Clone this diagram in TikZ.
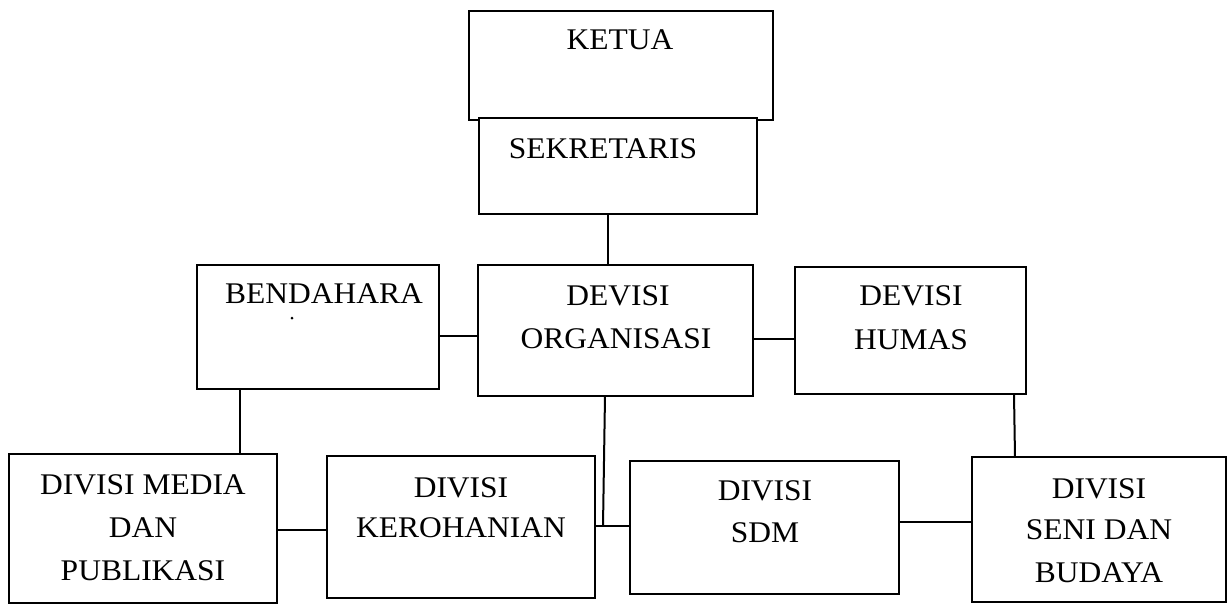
\documentclass[tikz,border=0pt]{standalone}
\usepackage{fontspec}
\setmainfont{Liberation Serif}[FakeStretch=1.05]
\begin{document}
\begin{tikzpicture}[x=1pt,y=-1pt,
  box/.style={draw=black, line width=2pt, fill=white, rectangle, inner sep=0pt, outer sep=0pt},
  txt/.style={font=\fontsize{30}{36}\selectfont, inner sep=0pt, anchor=base},
  conn/.style={draw=black, line width=2pt}]
\useasboundingbox (0,0) rectangle (1232,605);
% boxes
\node[box, minimum width=304pt, minimum height=109pt] (ketua) at (621,65.5) {};
\node[box, minimum width=278pt, minimum height=96pt] (sek) at (618,166) {};
\node[box, minimum width=242pt, minimum height=124pt] (bend) at (318,327) {};
\node[box, minimum width=275pt, minimum height=131pt] (org) at (615.5,330.5) {};
\node[box, minimum width=231pt, minimum height=127pt] (humas) at (910.5,330.5) {};
\node[box, minimum width=268pt, minimum height=149pt] (media) at (143,528.5) {};
\node[box, minimum width=268pt, minimum height=142pt] (kero) at (461,527) {};
\node[box, minimum width=269pt, minimum height=133pt] (sdm) at (764.5,527.5) {};
\node[box, minimum width=254pt, minimum height=145pt] (seni) at (1099,529.5) {};
% texts
\node[txt] (ketuaT) at (620,49) {KETUA};
\node[txt] (sekT) at (603,158) {SEKRETARIS};
\node[txt] (bendT) at (324,303) {BENDAHARA};
\fill (292,318) circle (1.5pt);
\node[txt] (orgT1) at (618,305) {DEVISI};
\node[txt] (orgT2) at (616,348) {ORGANISASI};
\node[txt] (humasT1) at (911,305) {DEVISI};
\node[txt] (humasT2) at (911,349) {HUMAS};
\node[txt] (mediaT1) at (143,494) {DIVISI MEDIA};
\node[txt] (mediaT2) at (143,537) {DAN};
\node[txt] (mediaT3) at (143,580) {PUBLIKASI};
\node[txt] (keroT1) at (461,497) {DIVISI};
\node[txt] (keroT2) at (461,537) {KEROHANIAN};
\node[txt] (sdmT1) at (765,500) {DIVISI};
\node[txt] (sdmT2) at (765,542) {SDM};
\node[txt] (seniT1) at (1099,498) {DIVISI};
\node[txt] (seniT2) at (1099,539) {SENI DAN};
\node[txt] (seniT3) at (1099,582) {BUDAYA};
% connectors
\coordinate (j) at (603,526);
\draw[conn] ([xshift=-10pt]sek.south) -- ([xshift=-10pt]sek.south |- org.north);
\draw[conn] ([yshift=-9pt]bend.east) -- ([yshift=-9pt]bend.east -| org.west);
\draw[conn] ([yshift=-8.5pt]org.east) -- ([yshift=-8.5pt]org.east -| humas.west);
\draw[conn] ([xshift=-78pt]bend.south) -- ([xshift=-78pt]bend.south |- media.north);
\draw[conn] ([yshift=-1.5pt]media.east) -- ([yshift=-1.5pt]media.east -| kero.west);
\draw[conn] ([xshift=-10.5pt]org.south) -- (j);
\draw[conn] (j -| kero.east) -- (j -| sdm.west);
\draw[conn] ([yshift=5.5pt]sdm.east) -- ([yshift=5.5pt]sdm.east -| seni.west);
\draw[conn] ([xshift=103.5pt]humas.south) -- ([xshift=104.5pt]humas.south |- seni.north);
\end{tikzpicture}
\end{document}
